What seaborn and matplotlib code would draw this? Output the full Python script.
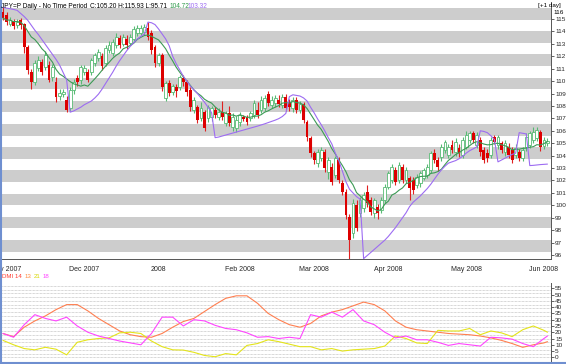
import numpy as np
import pandas as pd
import matplotlib.pyplot as plt
import seaborn as sns
from matplotlib.patches import Rectangle
from matplotlib.lines import Line2D

# trading days shown on the chart
dates = pd.bdate_range('2007-10-31', '2008-06-03')

opens = [115.56, 115.3, 114.6, 114.85, 114.5, 114.9, 114.6, 112.75, 110.7, 109.9,
         111.05, 111.55, 111.1, 111.3, 110.3, 109.9, 108.8, 108.95, 108.5, 107.85,
         109.3, 110.25, 110.1, 110.7, 110.7, 110.7, 111.45, 111.85, 112.0, 111.45,
         112.5, 112.26, 112.9, 113.47, 113.0, 113.4, 113.07, 113.4, 113.87, 113.9,
         113.95, 114.27, 113.9, 112.75, 111.45, 112.1, 108.65, 109.85, 109.1, 109.5,
         109.5, 110.25, 109.9, 109.3, 107.7, 107.9, 107.0, 107.5, 107.0, 107.1,
         107.67, 107.1, 107.5, 106.6, 107.43, 106.3, 106.2, 106.7, 107.1, 107.1,
         107.0, 107.27, 107.67, 107.67, 107.83, 108.96, 108.08, 108.24, 108.48, 108.08,
         108.72, 108.32, 107.83, 108.48, 107.67, 108.16, 106.7, 105.42, 104.2, 103.4,
         103.8, 104.3, 102.7, 103.08, 102.44, 103.65, 101.8, 101.07, 99.06, 97.77,
         100.02, 99.38, 99.78, 101.07, 100.43, 99.38, 99.86, 99.62, 100.43, 101.47,
         102.04, 102.84, 102.04, 103.08, 102.04, 102.2, 102.04, 101.63, 101.8, 102.2,
         102.44, 102.84, 104.2, 103.65, 103.9, 104.45, 104.05, 104.86, 104.3, 104.6,
         104.05, 104.7, 105.26, 105.82, 104.86, 105.26, 104.45, 104.2, 104.05, 105.5,
         104.86, 105.0, 104.3, 104.7, 104.45, 104.05, 104.3, 103.8, 104.7, 104.86,
         105.26, 105.42, 105.9, 104.78, 105.0]
closes = [115.08, 114.75, 114.9, 114.45, 114.8, 114.5, 112.75, 110.9, 109.9, 111.45,
          111.7, 110.75, 112.1, 110.1, 111.1, 108.7, 109.05, 109.1, 107.7, 109.3,
          109.9, 109.9, 111.1, 111.05, 110.1, 111.7, 112.1, 112.35, 111.2, 112.65,
          112.9, 113.15, 113.55, 112.9, 113.55, 112.9, 113.55, 114.2, 114.27, 114.3,
          114.35, 113.55, 112.5, 111.45, 112.1, 109.5, 109.85, 109.05, 109.6, 109.2,
          110.3, 109.9, 109.1, 107.9, 108.5, 106.9, 107.8, 106.2, 107.9, 107.8,
          107.27, 107.5, 107.1, 107.4, 106.63, 107.1, 106.9, 107.27, 106.95, 106.7,
          107.4, 108.24, 107.27, 108.48, 108.64, 108.24, 108.48, 108.64, 108.16, 108.72,
          107.83, 107.91, 108.48, 107.67, 108.16, 106.87, 105.5, 104.2, 103.65, 104.3,
          104.45, 103.0, 103.65, 101.88, 103.8, 102.04, 101.07, 99.22, 97.21, 100.19,
          98.17, 100.43, 100.83, 100.19, 99.46, 100.43, 99.38, 100.43, 101.47, 102.6,
          103.08, 101.88, 103.24, 102.04, 102.84, 101.4, 101.23, 102.28, 102.6, 102.84,
          103.08, 104.2, 103.65, 103.08, 104.7, 105.1, 104.7, 104.45, 105.1, 104.2,
          105.26, 105.66, 105.82, 105.26, 105.66, 104.3, 103.65, 103.8, 105.26, 105.1,
          105.5, 104.45, 105.0, 104.05, 103.65, 104.6, 103.8, 104.45, 105.5, 105.82,
          105.9, 106.06, 104.7, 105.26, 105.2]
highs = [115.93, 115.6, 115.2, 115.0, 115.0, 115.1, 114.7, 112.9, 111.0, 111.7,
         112.0, 111.8, 112.4, 111.6, 111.4, 110.3, 109.4, 109.4, 108.8, 109.5,
         110.2, 110.5, 111.3, 111.3, 111.0, 111.9, 112.3, 112.6, 112.3, 112.9,
         113.2, 113.4, 113.9, 113.7, 113.8, 113.7, 113.8, 114.4, 114.5, 114.5,
         114.6, 114.75, 114.1, 112.9, 112.3, 112.3, 110.0, 110.1, 109.8, 109.8,
         110.5, 110.5, 110.1, 109.5, 108.7, 108.1, 108.3, 107.7, 108.1, 108.0,
         107.9, 107.8, 108.4, 107.6, 108.0, 107.4, 107.2, 107.5, 107.3, 107.3,
         107.6, 108.5, 108.3, 108.8, 108.9, 109.2, 108.8, 108.9, 108.9, 109.0,
         109.0, 108.6, 108.7, 108.7, 108.4, 108.3, 106.9, 105.6, 104.4, 104.5,
         104.7, 104.5, 103.9, 103.4, 104.0, 103.9, 102.0, 101.3, 99.3, 100.5,
         100.4, 100.7, 101.1, 101.6, 100.7, 100.6, 100.1, 100.7, 101.7, 102.8,
         103.3, 103.1, 103.5, 103.3, 103.1, 102.4, 102.3, 102.5, 102.8, 103.0,
         103.3, 104.4, 104.5, 103.9, 104.9, 105.3, 104.9, 105.3, 105.4, 104.9,
         105.5, 106.0, 106.0, 106.0, 105.9, 105.5, 104.7, 104.5, 105.5, 105.7,
         105.7, 105.2, 105.3, 105.0, 104.7, 104.9, 104.5, 104.7, 105.8, 106.0,
         106.3, 106.3, 106.1, 105.5, 105.4]
lows = [114.9, 114.5, 114.4, 114.2, 114.3, 114.2, 112.3, 110.6, 109.4, 109.7,
        110.8, 110.5, 110.9, 109.9, 110.0, 108.3, 108.5, 108.7, 107.5, 107.6,
        109.0, 109.6, 109.8, 110.5, 109.9, 110.5, 111.2, 111.6, 110.9, 111.2,
        112.3, 112.0, 112.7, 112.7, 112.8, 112.6, 112.9, 113.2, 113.6, 113.7,
        113.7, 113.3, 112.2, 111.1, 111.2, 109.2, 108.4, 108.8, 108.9, 108.7,
        109.3, 109.6, 108.8, 107.6, 107.4, 106.6, 106.8, 106.0, 106.7, 106.8,
        107.0, 106.9, 106.9, 106.4, 106.4, 106.0, 105.9, 106.4, 106.8, 106.5,
        106.8, 107.0, 107.0, 107.4, 107.6, 108.0, 107.8, 107.9, 107.9, 107.8,
        107.6, 107.6, 107.5, 107.4, 107.4, 106.6, 105.2, 103.9, 103.3, 103.1,
        103.6, 102.7, 102.1, 101.6, 102.2, 101.8, 100.8, 98.9, 95.71, 97.4,
        97.9, 99.1, 99.5, 99.9, 99.2, 99.0, 98.9, 99.4, 100.2, 101.3,
        101.8, 101.6, 101.8, 101.8, 101.8, 100.4, 100.9, 101.4, 101.5, 102.0,
        102.2, 102.6, 103.4, 102.8, 103.6, 104.2, 103.8, 104.2, 104.0, 103.9,
        103.8, 104.5, 105.0, 105.0, 104.6, 104.0, 103.4, 103.5, 103.8, 104.9,
        104.5, 104.2, 104.0, 103.8, 103.4, 103.8, 103.6, 103.6, 104.4, 104.6,
        105.0, 105.2, 104.4, 104.5, 104.8]

# parabolic SAR line
sar = [115.93, 115.88, 115.83, 115.77, 115.7, 115.45, 115.2, 114.9, 114.5, 114.1,
       113.75, 113.35, 112.95, 112.55, 112.15, 111.75, 111.3, 110.7, 110.1, 107.5,
       107.6, 107.75, 107.9, 108.1, 108.25, 108.4, 108.65, 108.95, 109.35, 109.8,
       110.25, 110.7, 111.2, 111.65, 112.05, 112.45, 112.8, 113.1, 113.4, 113.6,
       113.8, 114.75, 114.7, 114.55, 114.2, 113.8, 113.4, 112.85, 112.0, 111.4,
       110.9, 110.4, 110.0, 109.6, 109.3, 109.0, 108.65, 108.3, 107.9, 107.45,
       105.45, 105.5, 105.58, 105.66, 105.74, 105.82, 105.9, 105.98, 106.06, 106.14,
       106.22, 106.3, 106.38, 106.47, 106.56, 106.66, 106.76, 106.86, 106.98, 107.15,
       107.4, 108.75, 108.9, 108.85, 108.8, 108.65, 108.4, 107.9, 107.45, 106.95,
       106.5, 106.0, 105.45, 104.95, 104.2, 103.6, 102.75, 101.9, 101.3, 101.0,
       100.7, 100.5, 95.71, 95.95, 96.2, 96.45, 96.7, 96.95, 97.2, 97.5,
       97.85, 98.2, 98.6, 99.0, 99.4, 99.9, 100.25, 100.5, 100.75, 101.05,
       101.35, 101.7, 102.1, 102.5, 102.85, 103.15, 103.4, 103.5, 103.6, 103.75,
       103.95, 104.2, 104.4, 104.55, 104.7, 106.0, 105.95, 105.85, 105.6, 105.3,
       103.5, 103.65, 103.8, 103.95, 104.1, 104.2, 105.85, 105.8, 105.75, 103.2,
       103.22, 103.25, 103.28, 103.3, 103.32]

# DMI 14, read every third trading day (plus the last one)
dmi_pos = list(range(0, 155, 3)) + [154]
adx = [19, 16.5, 24, 29, 33, 38, 42, 42, 37, 31, 26, 21, 18, 16.5, 16, 19, 24, 28.5,
       31, 36.5, 42, 47, 49, 49, 43, 35, 30, 26, 24, 27, 33, 36, 38, 41, 44, 42, 37,
       29, 24, 22, 21, 20, 19, 18.5, 18, 17, 15.5, 13.5, 11, 8, 10, 11.5, 12.5]
plus_di = [13.5, 10, 7, 6, 8, 6.5, 2, 12, 14, 15, 15.5, 19.5, 20, 19, 13, 8.5, 6, 5.8,
           4, 1.5, 0.5, 3, 2, 9.5, 11, 14, 12.5, 10.5, 8.5, 8.5, 6, 7, 5, 6, 6.5, 7, 9,
           17, 15, 11.5, 11, 21.5, 21, 21, 23, 18, 21, 19.5, 16.5, 22, 25, 21.5, 20]
minus_di = [19, 16, 26, 34, 31, 29, 32, 25, 20, 17, 15, 13, 11.5, 10, 19, 32, 32, 25,
            30, 29, 25.5, 23, 22, 19.5, 16, 16.5, 15, 16, 15, 34, 32, 36, 32, 38, 29, 26,
            20, 15.5, 17, 14, 14, 12, 9.5, 11, 10, 9, 16, 15.5, 14.5, 11, 8.5, 15, 17]

month_labels = ['Nov 2007', 'Dec 2007', '2008', 'Feb 2008', 'Mar 2008',
                'Apr 2008', 'May 2008', 'Jun 2008']

df = pd.DataFrame({'o': opens, 'h': highs, 'l': lows, 'c': closes, 'sar': sar},
                  index=dates)
df['x'] = np.arange(len(df))
df['ma'] = df['c'].rolling(10, min_periods=1).mean()

sns.set_style('white')
plt.rcParams['font.family'] = ['Liberation Sans', 'DejaVu Sans']

W, H = 566, 364
fig = plt.figure(figsize=(W / 100, H / 100), dpi=100)


def box(l, t, r, b):
    return [l / W, 1 - b / H, (r - l) / W, (b - t) / H]


ax = fig.add_axes(box(2, 2, 551, 259))
ax2 = fig.add_axes(box(2, 283, 551, 362))

# striped background of the price panel
for k in range(11):
    top = 8 + 23.2 * k
    ax.add_patch(Rectangle((0, (259 - top - 11.6) / 257), 1, 11.6 / 257,
                           transform=ax.transAxes, color='#cdcdcd', lw=0, zorder=0))

up = df[df['c'] >= df['o']]
dn = df[df['c'] < df['o']]
ax.vlines(up['x'], up['l'], up['h'], color='#58bb74', lw=0.8, zorder=2)
ax.vlines(dn['x'], dn['l'], dn['h'], color='#e02020', lw=0.8, zorder=2)
ax.bar(up['x'], (up['c'] - up['o']).clip(lower=0.05), bottom=up['o'], width=0.8,
       facecolor='white', edgecolor='#58bb74', lw=0.6, zorder=3)
ax.bar(dn['x'], dn['o'] - dn['c'], bottom=dn['c'], width=0.8,
       color='#dd0000', lw=0, zorder=3)

sns.lineplot(x=df['x'], y=df['ma'], ax=ax, color='#3c9a55', lw=0.8, zorder=4)
sns.lineplot(x=df['x'], y=df['sar'], ax=ax, color='#9d6cf2', lw=0.8, zorder=4)

ax.set_xlim(-0.28, 155.0)
ax.set_ylim(95.68, 116.37)
ax.set_xlabel('')
ax.set_ylabel('')
ax.yaxis.tick_right()
ax.set_yticks(range(96, 116))
ax.tick_params(axis='y', labelsize=4.6, length=2, width=0.5, pad=1)
month_starts = [i for i in range(1, len(dates)) if dates[i].month != dates[i - 1].month]
ax.set_xticks(month_starts)
ax.set_xticklabels(month_labels)
ax.set_xticks(df['x'], minor=True)
ax.tick_params(axis='x', which='major', labelsize=5, length=3, width=0.6, pad=2)
ax.tick_params(axis='x', which='minor', length=1.2, width=0.4)
for s in ['top', 'left']:
    ax.spines[s].set_visible(False)
for s in ['right', 'bottom']:
    ax.spines[s].set_color('#555555')
    ax.spines[s].set_linewidth(0.7)

# DMI panel
for g in np.arange(0, 58, 3):
    ax2.axhline(g, color='#b0b0b0', lw=0.5, ls=(0, (1, 1)), zorder=0)
sns.lineplot(x=dmi_pos, y=adx, ax=ax2, color='#ff7f50', lw=0.8)
sns.lineplot(x=dmi_pos, y=plus_di, ax=ax2, color='#e4e41a', lw=0.8)
sns.lineplot(x=dmi_pos, y=minus_di, ax=ax2, color='#ff45ff', lw=0.8)
ax2.set_xlim(-0.28, 155.0)
ax2.set_ylim(-3.7, 59.2)
ax2.set_xticks([])
ax2.yaxis.tick_right()
ax2.set_yticks(range(0, 60, 5))
ax2.tick_params(axis='y', labelsize=4.6, length=2, width=0.5, pad=1)
for s in ['top', 'left', 'bottom']:
    ax2.spines[s].set_visible(False)
ax2.spines['right'].set_color('#555555')
ax2.spines['right'].set_linewidth(0.7)


# header texts
def ftext(x, y, s, color='black', size=4.7):
    fig.text(x / W, 1 - y / H, s, color=color, fontsize=size, va='center', ha='left')


ftext(1, 7, 'JPY=P Daily - No Time Period')
ftext(90, 7, 'C:105.20 H:115.93 L:95.71')
ftext(170, 7, '104.72', '#2e9a4a')
ftext(188, 7, '103.32', '#9d6cf2')
ftext(538, 5, '[+1 day]', size=4.5)
ftext(553, 13, '116', size=4.6)
ftext(2, 276, 'DMI 14', '#ff3b30', 4.4)
ftext(25, 276, '13', '#ff8c40', 4.4)
ftext(34, 276, '21', '#d8d800', 4.4)
ftext(43, 276, '18', '#ff45ff', 4.4)

# window border
fig.add_artist(Line2D([1 / W, 1 / W], [0, 1], color='#6f8fd0', lw=1.5))
fig.add_artist(Line2D([0, 1], [1 / H, 1 / H], color='#6f8fd0', lw=1.5))

fig.savefig('out.png', dpi=100)
